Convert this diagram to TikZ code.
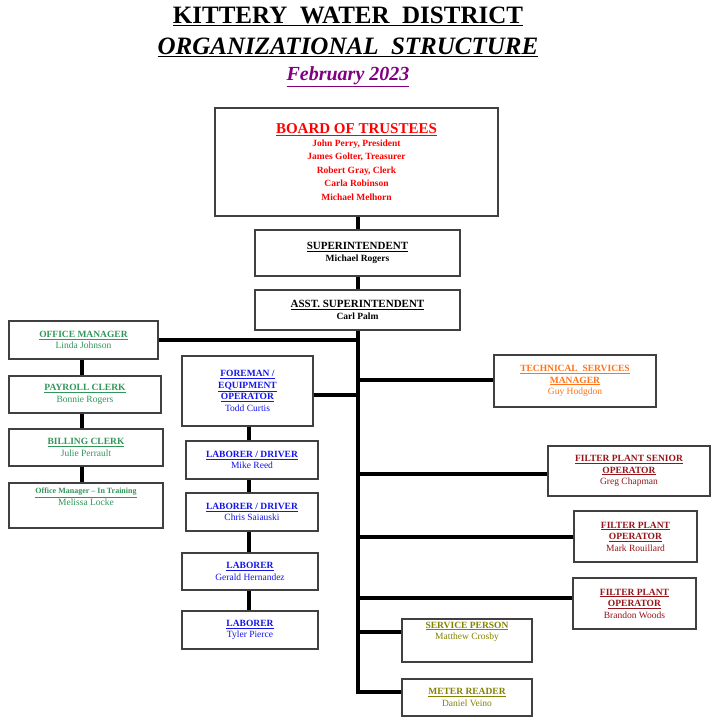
\documentclass[tikz,border=0pt]{standalone}
\usepackage{fontspec}
\setmainfont{Liberation Serif}
\definecolor{gr}{RGB}{50,150,90}
\definecolor{bl}{RGB}{20,20,235}
\definecolor{og}{RGB}{255,115,25}
\definecolor{dr}{RGB}{150,20,25}
\definecolor{ol}{RGB}{130,130,0}
\definecolor{pu}{RGB}{128,0,128}
\begin{document}
\begin{tikzpicture}[x=1pt,y=-1pt,
 box/.style={draw=black!75,line width=1.2pt,fill=white,align=center,inner sep=1pt,font=\fontsize{9.5}{11.5}\selectfont},
 ln/.style={line width=3.5pt}]
\useasboundingbox (0,0) rectangle (720,725);
\def\bx#1#2#3#4#5#6#7{\node[box,text=#7,minimum width=#4-#2,minimum height=#5-#3] (#1) at ({(#2+#4)/2},{(#3+#5)/2}) {#6};}
\node[font=\bfseries\fontsize{25}{26}\selectfont] (t1) at (348,16) {\underline{KITTERY\ \ WATER\ \ DISTRICT}};
\node[font=\bfseries\itshape\fontsize{25}{26}\selectfont] (t2) at (348,47) {\underline{ORGANIZATIONAL\ \ STRUCTURE}};
\node[font=\bfseries\itshape\fontsize{20}{22}\selectfont,text=pu] (t3) at (348,77) {\underline{February 2023}};
\coordinate (top) at (358,216);
\coordinate (bot) at (358,694);
\draw[ln] (top) -- (bot);
\bx{bot1}{215}{108}{498}{216}{{\fontsize{15}{17}\selectfont\bfseries\underline{BOARD OF TRUSTEES}}\\[1pt]\textbf{John Perry, President}\\[2pt]\textbf{James Golter, Treasurer}\\[2pt]\textbf{Robert Gray, Clerk}\\[2pt]\textbf{Carla Robinson}\\[2pt]\textbf{Michael Melhorn}}{red}
\bx{sup}{255}{230}{460}{276}{{\bfseries\fontsize{11}{13}\selectfont\underline{SUPERINTENDENT}}\\\textbf{Michael Rogers}}{black}
\bx{asst}{255}{290}{460}{330}{{\bfseries\fontsize{11}{13}\selectfont\underline{ASST. SUPERINTENDENT}}\\\textbf{Carl Palm}}{black}
\coordinate (jo) at (358,340);
\bx{om}{9}{321}{158}{359}{\underline{\textbf{OFFICE MANAGER}}\\Linda Johnson}{gr}
\bx{pc}{9}{376}{161}{413}{\underline{\textbf{PAYROLL CLERK}}\\Bonnie Rogers}{gr}
\bx{bc}{9}{429}{163}{466}{\underline{\textbf{BILLING CLERK}}\\Julie Perrault}{gr}
\bx{tr}{9}{483}{163}{528}{\underline{\textbf{\fontsize{8}{9.5}\selectfont Office Manager -- In Training}}\\Melissa Locke\\[6pt]}{gr}
\draw[ln] (om.east) -- (jo);
\draw[ln] (om.south -| 82,0) -- (pc.north -| 82,0);
\draw[ln] (pc.south -| 82,0) -- (bc.north -| 82,0);
\draw[ln] (bc.south -| 82,0) -- (tr.north -| 82,0);
\bx{fm}{182}{356}{313}{426}{\underline{\textbf{FOREMAN /}}\\\underline{\textbf{EQUIPMENT}}\\\underline{\textbf{OPERATOR}}\\Todd Curtis}{bl}
\bx{l1}{186}{441}{318}{479}{\underline{\textbf{LABORER / DRIVER}}\\Mike Reed}{bl}
\bx{l2}{186}{493}{318}{531}{\underline{\textbf{LABORER / DRIVER}}\\Chris Saiauski}{bl}
\bx{l3}{182}{553}{318}{590}{\underline{\textbf{LABORER}}\\Gerald Hernandez}{bl}
\bx{l4}{182}{611}{318}{649}{\underline{\textbf{LABORER}}\\Tyler Pierce}{bl}
\coordinate (jf) at (358,395);
\draw[ln] (fm.east |- jf) -- (jf);
\draw[ln] (fm.south -| 249,0) -- (l1.north -| 249,0);
\draw[ln] (l1.south -| 249,0) -- (l2.north -| 249,0);
\draw[ln] (l2.south -| 249,0) -- (l3.north -| 249,0);
\draw[ln] (l3.south -| 249,0) -- (l4.north -| 249,0);
\bx{ts}{494}{355}{656}{407}{\underline{\textbf{TECHNICAL\ \ SERVICES}}\\\underline{\textbf{MANAGER}}\\Guy Hodgdon}{og}
\bx{fs}{548}{446}{710}{496}{\underline{\textbf{FILTER PLANT SENIOR}}\\\underline{\textbf{OPERATOR}}\\Greg Chapman}{dr}
\bx{f1}{574}{511}{697}{562}{\underline{\textbf{FILTER PLANT}}\\\underline{\textbf{OPERATOR}}\\Mark Rouillard}{dr}
\bx{f2}{573}{578}{696}{629}{\underline{\textbf{FILTER PLANT}}\\\underline{\textbf{OPERATOR}}\\Brandon Woods}{dr}
\bx{sp}{402}{619}{532}{662}{\underline{\textbf{SERVICE PERSON}}\\Matthew Crosby\\[8pt]}{ol}
\bx{mr}{402}{679}{532}{716}{\underline{\textbf{METER READER}}\\Daniel Veino}{ol}
\foreach \n/\y in {ts/380,fs/474,f1/537,f2/598,sp/632,mr/692}{
 \coordinate (j\n) at (358,\y);
 \draw[ln] (j\n) -- (\n.west |- j\n);}
\end{tikzpicture}
\end{document}
